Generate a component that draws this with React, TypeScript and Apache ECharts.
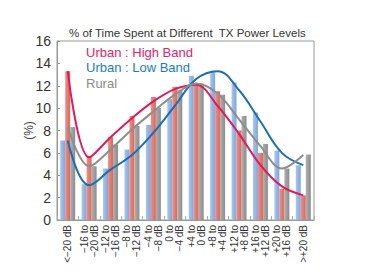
import React, { useEffect, useRef } from "react";
import * as echarts from "echarts";

const categories = [
  "<−20 dB",
  "−16 to\n−20 dB",
  "−12 to\n−16 dB",
  "−8 to\n−12 dB",
  "−4 to\n−8 dB",
  "0 to\n−4 dB",
  "+4 to\n0 dB",
  "+8 to\n+4 dB",
  "+12 to\n+8 dB",
  "+16 to\n+12 dB",
  "+20 to\n+16 dB",
  ">+20 dB",
];

const lowBandBars = [7.1, 3.2, 4.6, 6.3, 8.5, 10.8, 12.9, 13.2, 12.3, 9.6, 6.2, 4.9];
const highBandBars = [13.3, 5.7, 7.4, 9.3, 11.0, 11.9, 12.2, 11.5, 8.0, 6.0, 2.8, 2.2];
const ruralBars = [8.3, 4.8, 6.75, 8.4, 10.0, 11.6, 12.2, 11.2, 9.3, 6.8, 4.6, 5.85];

const highBandTrend = [13.3, 5.6, 7.4, 9.1, 10.6, 11.7, 12.1, 10.2, 7.7, 4.9, 3.0, 2.2];
const lowBandTrend = [7.1, 3.1, 4.5, 5.8, 7.8, 10.2, 12.6, 13.3, 11.6, 8.8, 6.0, 4.9];
const ruralTrend = [8.3, 4.8, 6.3, 8.1, 9.7, 11.2, 12.2, 11.3, 9.0, 6.6, 4.6, 5.8];

const yTicks = [0, 2, 4, 6, 8, 10, 12, 14, 16];

const legendNames = ["Urban : High Band", "Urban : Low Band", "Rural"];
const titleText = "% of Time Spent at Different  TX Power Levels";

const FONT = "Liberation Sans, Arial, sans-serif";

export default function App() {
  const ref = useRef<HTMLDivElement>(null);
  useEffect(() => {
    document.body.style.margin = "0";
    if (!ref.current) return;
    const chart = echarts.init(ref.current, null, { renderer: "svg" });
    const grad = (a: string, b: string) =>
      new echarts.graphic.LinearGradient(0, 0, 1, 0, [
        { offset: 0, color: a },
        { offset: 1, color: b },
      ]);
    chart.setOption({
      animation: false,
      backgroundColor: "#ffffff",
      textStyle: { fontFamily: FONT },
      title: {
        text: titleText,
        left: 64,
        top: 22,
        textStyle: { fontSize: 11.5, fontWeight: "normal", color: "#333", fontFamily: FONT },
      },
      grid: {
        left: 57,
        right: 64,
        top: 41,
        bottom: 58,
        show: true,
        borderColor: "#999",
        borderWidth: 1,
        containLabel: false,
      },
      xAxis: {
        type: "category",
        data: categories,
        axisLine: { show: true, lineStyle: { color: "#999" } },
        axisTick: { show: true, inside: true, length: 4, lineStyle: { color: "#aaa" } },
        axisLabel: {
          rotate: 90,
          interval: 0,
          fontSize: 10,
          color: "#333",
          lineHeight: 10,
          margin: 5,
          fontFamily: FONT,
        },
      },
      yAxis: {
        type: "value",
        min: yTicks[0],
        max: yTicks[yTicks.length - 1],
        interval: 2,
        name: "(%)",
        nameLocation: "middle",
        nameGap: 22,
        nameRotate: 90,
        nameMoveOverlap: false,
        nameTextStyle: { fontSize: 12, color: "#444", fontFamily: FONT },
        splitLine: { show: false },
        axisLine: { show: true, lineStyle: { color: "#999" } },
        axisTick: { show: true, inside: true, length: 3, lineStyle: { color: "#999" } },
        axisLabel: { fontSize: 14, color: "#333", margin: 6, fontFamily: FONT },
      },
      series: [
        {
          name: legendNames[1] + " bars",
          type: "bar",
          data: lowBandBars,
          barWidth: 5,
          barGap: "0%",
          itemStyle: { color: grad("#a9c7ee", "#7ea5dc") },
        },
        {
          name: legendNames[0] + " bars",
          type: "bar",
          data: highBandBars,
          barWidth: 5,
          barGap: "0%",
          itemStyle: { color: grad("#ea9286", "#d8675c") },
        },
        {
          name: legendNames[2] + " bars",
          type: "bar",
          data: ruralBars,
          barWidth: 5,
          barGap: "0%",
          itemStyle: { color: grad("#b0b0b0", "#8c8c8c") },
        },
        {
          name: legendNames[0],
          type: "line",
          data: highBandTrend,
          smooth: 0.35,
          showSymbol: false,
          z: 5,
          lineStyle: { color: "#e0195c", width: 2 },
        },
        {
          name: legendNames[1],
          type: "line",
          data: lowBandTrend,
          smooth: 0.4,
          showSymbol: false,
          z: 5,
          lineStyle: { color: "#1b6db4", width: 2 },
        },
        {
          name: legendNames[2],
          type: "line",
          data: ruralTrend,
          smooth: 0.35,
          showSymbol: false,
          z: 5,
          lineStyle: { color: "#8e8e8e", width: 2 },
        },
      ],
      graphic: [
        {
          type: "text",
          left: 86,
          top: 46,
          z: 10,
          style: { text: legendNames[0], fill: "#e0246a", fontSize: 13, fontFamily: FONT },
        },
        {
          type: "text",
          left: 86,
          top: 61,
          z: 10,
          style: { text: legendNames[1], fill: "#1a7cc0", fontSize: 13, fontFamily: FONT },
        },
        {
          type: "text",
          left: 86,
          top: 77,
          z: 10,
          style: { text: legendNames[2], fill: "#8c8c8c", fontSize: 13, fontFamily: FONT },
        },
      ],
    });
    return () => chart.dispose();
  }, []);
  return <div ref={ref} style={{ width: 378, height: 278 }} />;
}
